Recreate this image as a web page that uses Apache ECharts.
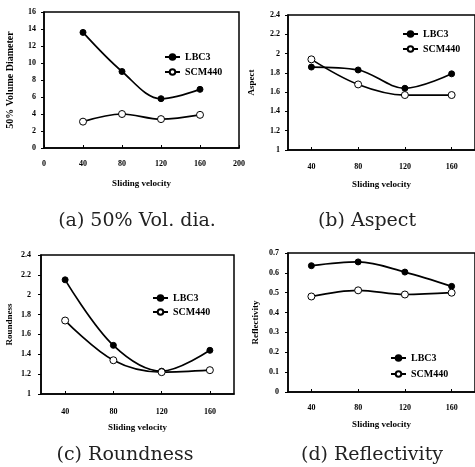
<!DOCTYPE html>
<html>
<head>
<meta charset="utf-8">
<script src="https://cdn.jsdelivr.net/npm/echarts@6/dist/echarts.min.js"></script>
<style>html,body{margin:0;padding:0;background:#fff}#c{width:475px;height:467px}</style>
</head>
<body>
<div id="c"></div>
<script>
const velocities = [40, 80, 120, 160];
const velTicks = ['40', '80', '120', '160'];
const seriesNames = ['LBC3', 'SCM440'];
const volDiaLBC3 = [13.6, 9.0, 5.8, 6.9];
const volDiaSCM440 = [3.1, 4.0, 3.4, 3.9];
const aspectLBC3 = [1.86, 1.83, 1.64, 1.79];
const aspectSCM440 = [1.94, 1.68, 1.57, 1.57];
const roundLBC3 = [2.15, 1.49, 1.23, 1.44];
const roundSCM440 = [1.74, 1.34, 1.22, 1.24];
const reflLBC3 = [0.636, 0.655, 0.604, 0.532];
const reflSCM440 = [0.481, 0.512, 0.491, 0.50];
const captions = ['(a) 50% Vol. dia.', '(b) Aspect', '(c) Roundness', '(d) Reflectivity'];
const yNames = ['50% Volume Diameter', 'Aspect', 'Roundness', 'Reflectivity'];
const xName = 'Sliding velocity';

const F = 'Liberation Serif';
const chart = echarts.init(document.getElementById('c'));

const grids = [
  {left: 44, top: 12, width: 195, height: 136},
  {left: 288, top: 15, width: 191, height: 135},
  {left: 41, top: 255, width: 193, height: 139},
  {left: 288, top: 253, width: 190, height: 139}
];
const yCfg = [
  {min: 0, max: 16, interval: 2, gap: 29, margin: 8},
  {min: 1, max: 2.4, interval: 0.2, gap: 32, margin: 8},
  {min: 1, max: 2.4, interval: 0.2, gap: 27, margin: 10},
  {min: 0, max: 0.7, interval: 0.1, gap: 28, margin: 9}
];
const xCfg = [
  {margin: 12, gap: 31},
  {margin: 13, gap: 30},
  {margin: 14, gap: 29},
  {margin: 12, gap: 28}
];

const axisLine = {show: true, lineStyle: {color: '#000', width: 1.5}};
const labelStyle = {color: '#000', fontFamily: F, fontWeight: 'bold', fontSize: 8};
const nameStyle = {color: '#000', fontFamily: F, fontWeight: 'bold', fontSize: 9};

const xAxes = grids.map((g, i) => {
  const base = {
    gridIndex: i,
    name: xName, nameLocation: 'middle', nameGap: xCfg[i].gap, nameTextStyle: nameStyle,
    axisLine: axisLine,
    axisTick: {show: true, inside: true, length: 3, lineStyle: {color: '#000'}},
    axisLabel: Object.assign({margin: xCfg[i].margin}, labelStyle),
    splitLine: {show: false}
  };
  if (i === 0) {
    return Object.assign(base, {type: 'value', min: 0, max: 200, interval: 40});
  }
  return Object.assign(base, {type: 'category', data: velTicks, boundaryGap: true,
    axisTick: {show: true, inside: true, length: 3, alignWithLabel: true, lineStyle: {color: '#000'}}});
});

const yAxes = grids.map((g, i) => ({
  gridIndex: i, type: 'value',
  min: yCfg[i].min, max: yCfg[i].max, interval: yCfg[i].interval,
  name: yNames[i], nameLocation: 'middle', nameGap: yCfg[i].gap, nameRotate: 90,
  nameTextStyle: Object.assign({}, nameStyle, {fontSize: i === 0 ? 10 : 9}),
  axisLine: axisLine,
  axisTick: {show: true, length: 3, lineStyle: {color: '#000'}},
  axisLabel: Object.assign({margin: yCfg[i].margin}, labelStyle),
  splitLine: {show: false}
}));

const dataSets = [
  [volDiaLBC3, volDiaSCM440],
  [aspectLBC3, aspectSCM440],
  [roundLBC3, roundSCM440],
  [reflLBC3, reflSCM440]
];

const series = [];
dataSets.forEach((pair, i) => {
  pair.forEach((vals, k) => {
    const data = i === 0 ? vals.map((v, j) => [velocities[j], v]) : vals;
    series.push({
      type: 'line', name: seriesNames[k], xAxisIndex: i, yAxisIndex: i,
      data: data, smooth: 0.35,
      symbol: 'circle', symbolSize: k === 0 ? 6 : 7,
      lineStyle: {color: '#000', width: 1.7},
      itemStyle: {color: k === 0 ? '#000' : '#fff', borderColor: '#000', borderWidth: 1},
      emphasis: {disabled: true}
    });
  });
});

const legendPos = [
  {left: 164, top: 52, gap: 5},
  {left: 402, top: 29, gap: 5},
  {left: 152, top: 293, gap: 4},
  {left: 390, top: 353, gap: 6}
];
const legends = legendPos.map(p => ({
  orient: 'vertical', left: p.left, top: p.top, padding: 0,
  itemWidth: 15, itemHeight: 7, itemGap: p.gap,
  data: seriesNames, selectedMode: false,
  textStyle: {color: '#000', fontFamily: F, fontWeight: 'bold', fontSize: 10, lineHeight: 10}
}));

const capPos = [[137, 221], [367, 221], [125, 455], [372, 455]];
const graphics = captions.map((t, i) => ({
  type: 'text', x: capPos[i][0], y: capPos[i][1],
  style: {text: t, fill: '#222', font: '19px "DejaVu Serif"', textAlign: 'center', textVerticalAlign: 'middle'}
}));

chart.setOption({
  animation: false,
  grid: grids.map(g => Object.assign({show: true, borderColor: '#000', borderWidth: 1.5, containLabel: false}, g)),
  xAxis: xAxes,
  yAxis: yAxes,
  legend: legends,
  series: series,
  graphic: graphics
});
</script>
</body>
</html>
